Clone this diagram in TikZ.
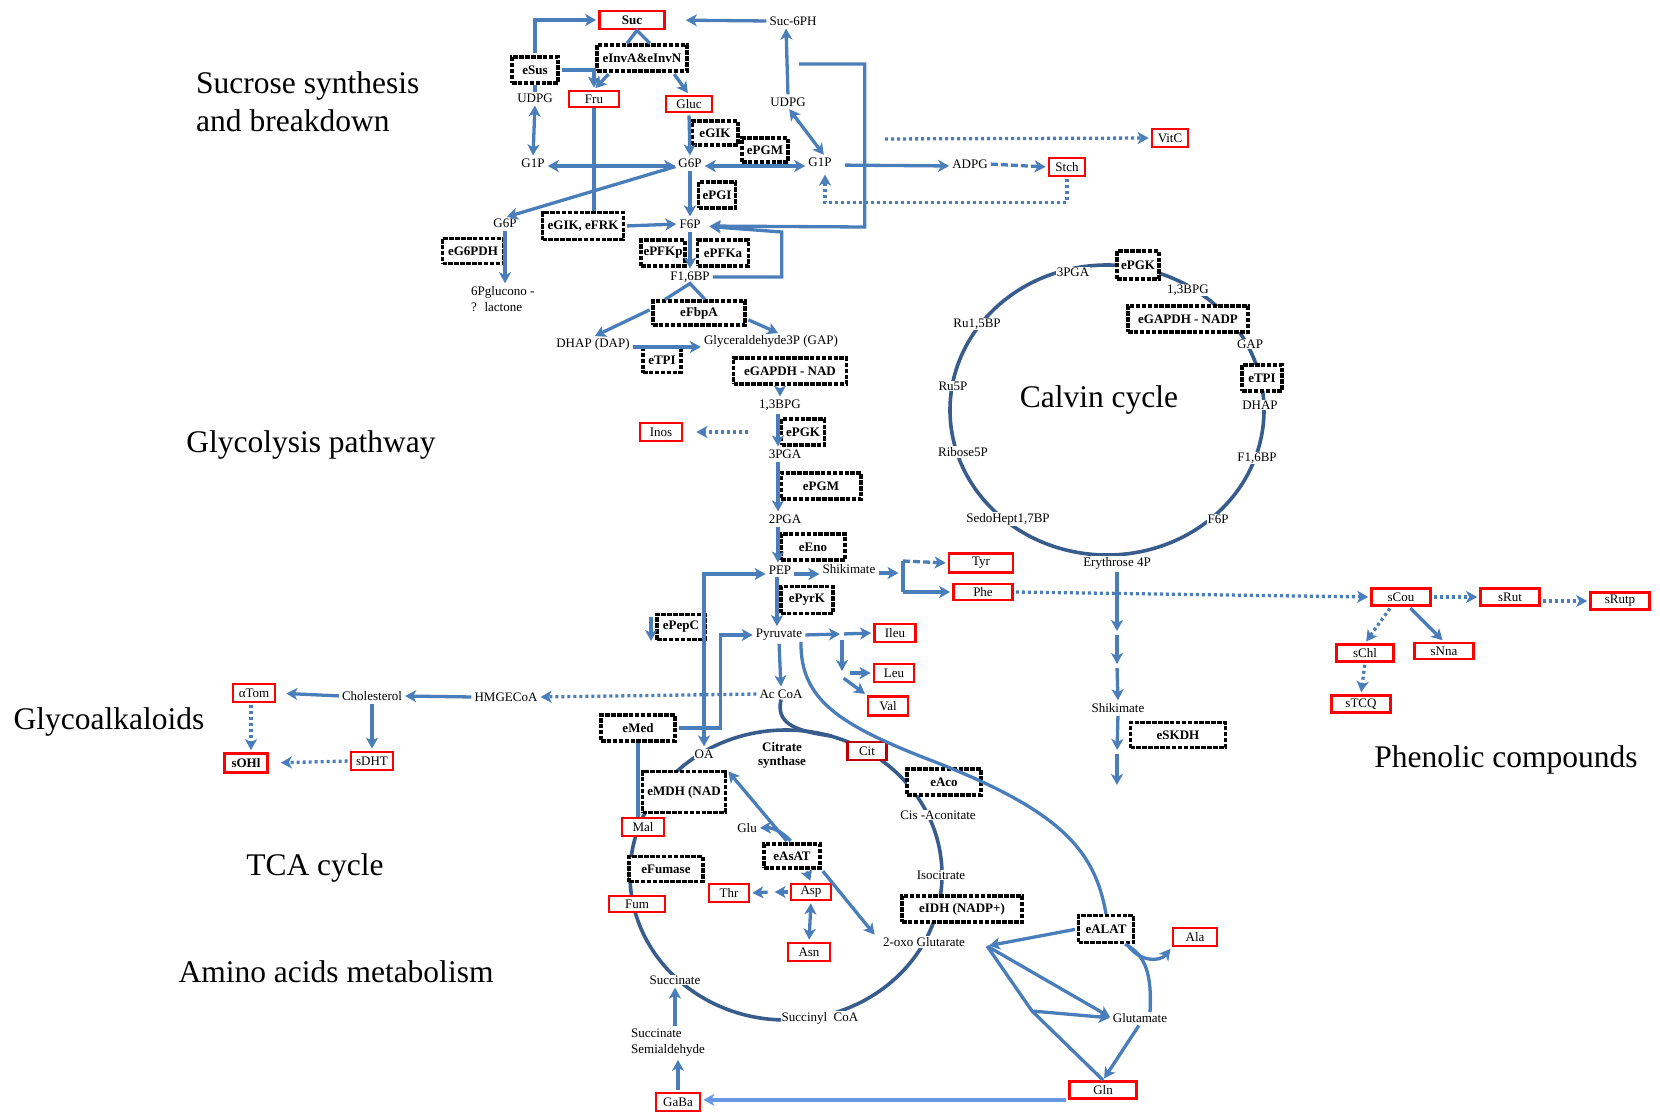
\documentclass[tikz,border=0pt]{standalone}
\usepackage{fontspec}
\setmainfont{Liberation Serif}
\usetikzlibrary{arrows.meta, calc}
\definecolor{arrblue}{RGB}{74,126,187}
\definecolor{cycblue}{RGB}{56,93,140}
\definecolor{lightblue}{RGB}{104,152,228}
\definecolor{boxred}{RGB}{255,0,0}
\definecolor{darkred}{RGB}{192,0,0}

\begin{document}
\begin{tikzpicture}[x=1pt, y=-1pt, >={Stealth[length=11pt,width=12pt,inset=3pt]}]
\tikzstyle{lbl}=[fill=white, inner sep=1pt, font=\fontsize{13}{16}\selectfont]
\tikzstyle{enz}=[draw=black, line width=3.1pt, dash pattern=on 4.5pt off 1.4pt, fill=white, inner sep=0pt, minimum height=26pt, font=\fontsize{13}{16}\selectfont\bfseries]
\tikzstyle{met}=[draw=boxred, line width=2.7pt, fill=white, inner sep=0pt, minimum height=18pt, font=\fontsize{13}{16}\selectfont]
\tikzstyle{metb}=[met, font=\fontsize{13}{16}\selectfont\bfseries]
\tikzstyle{ttl}=[font=\fontsize{31.5}{38}\selectfont, align=left, inner sep=0pt]
\tikzstyle{line}=[draw=arrblue, line width=3.3pt]
\tikzstyle{arr}=[line, ->, shorten <=2pt, shorten >=2pt]
\tikzstyle{dbl}=[line, <->, shorten <=2pt, shorten >=2pt]
\tikzstyle{dotarr}=[arr, dash pattern=on 3pt off 3pt]
\tikzstyle{dasharr}=[arr, dash pattern=on 7pt off 3pt]
\tikzstyle{lightarr}=[arr, draw=lightblue]
\tikzstyle{cyc}=[draw=cycblue, line width=3.6pt]
\useasboundingbox (0,0) rectangle (1660,1113);

% cycles
\draw[cyc] (786,875) ellipse [x radius=156, y radius=145];
\draw[cyc] (1107,410) ellipse [x radius=157, y radius=145];
\coordinate (csjoin) at (832,736);

% titles
\node[ttl, anchor=west] (tsuc) at (196,102) {Sucrose synthesis\\and breakdown};
\node[ttl] (tgly) at (311,445) {Glycolysis pathway};
\node[ttl] (tgal) at (109,722) {Glycoalkaloids};
\node[ttl] (ttca) at (315,868) {TCA cycle};
\node[ttl] (tamino) at (336,972) {Amino acids metabolism};
\node[ttl] (tphen) at (1506,760) {Phenolic compounds};
\node[ttl] (tcalvin) at (1099,400) {Calvin cycle};

% sucrose synthesis and breakdown
\node[metb, minimum width=65pt] (suc) at (632,20) {Suc};
\node[lbl] (sucph) at (793,21) {Suc-6PH};
\node[enz, minimum width=46pt] (esus) at (535,70) {eSus};
\node[enz, minimum width=90pt] (einv) at (642,58) {eInvA\&eInvN};
\node[lbl] (udpgL) at (535,98) {UDPG};
\node[met, minimum width=50pt, minimum height=16pt] (fru) at (594,99) {Fru};
\node[met, minimum width=46pt, minimum height=16pt] (gluc) at (689,104) {Gluc};
\node[lbl] (udpgR) at (788,102) {UDPG};
\node[enz, minimum width=46pt, minimum height=24pt] (egik) at (715,133) {eGIK};
\node[enz, minimum width=46pt, minimum height=24pt] (epgmA) at (765,150) {ePGM};
\node[lbl] (g1pL) at (533,163) {G1P};
\node[lbl] (g6p) at (690,163) {G6P};
\node[lbl] (g1pR) at (820,162) {G1P};
\node[lbl] (adpg) at (970,164) {ADPG};
\node[met, minimum width=36pt] (stch) at (1067,167) {Stch};
\node[met, minimum width=36pt] (vitc) at (1170,138) {VitC};
\node[enz, minimum width=37pt] (epgi) at (717,195) {ePGI};
\node[lbl] (g6pb) at (505,223) {G6P};
\node[enz, minimum width=81pt, minimum height=27pt] (egikfrk) at (583,226) {eGIK, eFRK};
\node[lbl] (f6p) at (690,224) {F6P};
\node[enz, minimum width=61pt, minimum height=25pt] (eg6pdh) at (473,251) {eG6PDH};
\node[enz, minimum width=44pt] (epfkp) at (663,253) {ePFKp};
\node[enz, minimum width=51pt] (epfka) at (723,253) {ePFKa};
\node[lbl] (fbp) at (690,277) {F1,6BP};
\node[lbl, align=left, anchor=west] (pgl) at (470,299) {6Pglucono -\\? \ lactone};
\coordinate (sucloop) at (797,64);
\coordinate (vitcsrc) at (883,139);

% glycolysis pathway
\node[enz, minimum width=92pt, minimum height=24pt] (efbpa) at (699,313) {eFbpA};
\node[lbl] (dhap) at (593,344) {DHAP (DAP)};
\node[lbl] (gap) at (771,341) {Glyceraldehyde3P (GAP)};
\node[enz, minimum width=38pt, minimum height=25pt] (etpiA) at (662,360) {eTPI};
\node[enz, minimum width=113pt] (egapdh) at (790,371) {eGAPDH - NAD};
\node[lbl] (bpgA) at (780,405) {1,3BPG};
\node[met, minimum width=42pt] (inos) at (661,432) {Inos};
\node[enz, minimum width=43pt] (epgkA) at (803,432) {ePGK};
\node[lbl] (pgaA) at (785,454) {3PGA};
\node[enz, minimum width=80pt] (epgmB) at (821,486) {ePGM};
\node[lbl] (pga2) at (785,519) {2PGA};
\node[enz, minimum width=64pt] (eeno) at (813,547) {eEno};
\node[lbl] (pep) at (780,570) {PEP};
\node[lbl] (shikA) at (849,569) {Shikimate};
\node[enz, minimum width=52pt, minimum height=27pt] (epyrk) at (807,600) {ePyrK};
\node[enz, minimum width=48pt, minimum height=25pt] (epepc) at (681,627) {ePepC};
\node[lbl] (pyr) at (779,635) {Pyruvate};
\node[met, minimum width=41pt] (ileu) at (895,633) {Ileu};
\node[met, minimum width=40pt] (leu) at (894,673) {Leu};
\node[met, minimum width=40pt, minimum height=19pt] (val) at (888,706) {Val};
\node[lbl] (accoa) at (781,694) {Ac CoA};
\coordinate (inossrc) at (750,432);
\coordinate (pepcA) at (651,615);
\coordinate (pepcB) at (651,643);
\coordinate (pyrfk) at (842,634);
\coordinate (pyrfk2) at (842,673);

% glycoalkaloids
\node[lbl] (hmg) at (506,697) {HMGECoA};
\node[lbl] (chol) at (372,696) {Cholesterol};
\node[met, minimum width=42pt] (atom) at (254,693) {αTom};
\node[met, minimum width=42pt] (sdht) at (372,761) {sDHT};
\node[metb, minimum width=43pt, minimum height=19pt] (sohl) at (246,763) {sOHl};

% TCA cycle
\node[enz, minimum width=74pt] (emed) at (638,728) {eMed};
\node[lbl] (oa) at (704,754) {OA};
\node[lbl, fill=none, align=center, font=\fontsize{13}{14}\selectfont\bfseries] (cs) at (782,755) {Citrate\\synthase};
\node[met, draw=darkred, minimum width=39pt] (cit) at (867,751) {Cit};
\node[enz, minimum width=83pt, minimum height=41pt] (emdh) at (684,792) {eMDH (NAD};
\node[enz, minimum width=74pt] (eaco) at (944,782) {eAco};
\node[lbl] (cisac) at (938,815) {Cis -Aconitate};
\node[met, minimum width=42pt] (mal) at (643,827) {Mal};
\node[lbl] (glu) at (747,828) {Glu};
\node[enz, minimum width=56pt, minimum height=24pt] (easat) at (792,856) {eAsAT};
\node[enz, minimum width=74pt, minimum height=25pt] (efum) at (666,869) {eFumase};
\node[lbl] (isoc) at (941,875) {Isocitrate};
\node[met, minimum width=40pt] (thr) at (729,893) {Thr};
\node[met, minimum width=40pt, minimum height=16pt] (asp) at (811,892) {Asp};
\node[met, minimum width=56pt, minimum height=16pt] (fum) at (637,904) {Fum};
\node[enz, minimum width=120pt] (eidh) at (962,909) {eIDH (NADP+)};
\node[lbl] (oxo) at (924,942) {2-oxo Glutarate};
\node[met, minimum width=42pt] (asn) at (809,952) {Asn};
\node[lbl] (succ) at (675,980) {Succinate};
\node[lbl] (succoa) at (820,1018) {Succinyl\ \ CoA};
\node[lbl, align=left, anchor=west] (ssa) at (630,1043) {Succinate\\Semialdehyde};
\node[met, minimum width=44pt] (gaba) at (678,1102) {GaBa};

% amino acids metabolism
\node[enz, minimum width=55pt, minimum height=27pt] (ealat) at (1106,929) {eALAT};
\node[met, minimum width=44pt] (ala) at (1195,937) {Ala};
\node[lbl] (glut) at (1140,1018) {Glutamate};
\node[met, minimum width=67pt, minimum height=17pt] (gln) at (1103,1090) {Gln};
\coordinate (oxohub) at (987,946);
\coordinate (oxofork) at (1032,1011);

% Calvin cycle
\node[lbl] (cpga) at (1073,272) {3PGA};
\node[enz, minimum width=42pt, minimum height=28pt] (epgkB) at (1138,265) {ePGK};
\node[lbl] (cbpg) at (1188,290) {1,3BPG};
\node[enz, minimum width=120pt] (egapdhB) at (1188,319) {eGAPDH - NADP};
\node[lbl] (cgap) at (1250,344) {GAP};
\node[enz, minimum width=40pt] (etpiB) at (1262,378) {eTPI};
\node[lbl] (cdhap) at (1260,405) {DHAP};
\node[lbl] (cfbp) at (1257,458) {F1,6BP};
\node[lbl] (cf6p) at (1218,519) {F6P};
\node[lbl] (ery) at (1117,563) {Erythrose 4P};
\node[lbl] (sedo) at (1008,519) {SedoHept1,7BP};
\node[lbl] (rib) at (963,452) {Ribose5P};
\node[lbl] (ru5p) at (953,386) {Ru5P};
\node[lbl] (rubp) at (977,324) {Ru1,5BP};

% phenolic compounds
\node[met, minimum width=64pt, minimum height=19pt] (tyr) at (981,563) {Tyr};
\node[met, minimum width=59pt, minimum height=16pt] (phe) at (983,592) {Phe};
\node[met, minimum width=59pt, minimum height=17pt] (scou) at (1401,597) {sCou};
\node[met, minimum width=59pt, minimum height=17pt] (srut) at (1510,597) {sRut};
\node[met, minimum width=59pt, minimum height=17pt] (srutp) at (1620,601) {sRutp};
\node[met, minimum width=57pt, minimum height=17pt] (schl) at (1365,653) {sChl};
\node[met, minimum width=59pt, minimum height=16pt] (snna) at (1444,651) {sNna};
\node[met, minimum width=59pt, minimum height=17pt] (stcq) at (1361,704) {sTCQ};
\node[lbl] (shikB) at (1118,708) {Shikimate};
\node[enz, minimum width=95pt, minimum height=25pt] (eskdh) at (1178,735) {eSKDH};
\coordinate (aroA) at (903,561);
\coordinate (aroB) at (903,592);
\coordinate (sk1) at (1117,633);
\coordinate (sk2) at (1117,666);
\coordinate (sk3) at (1117,752);
\coordinate (sk4) at (1117,787);

% sucrose connectors
\draw[arr, shorten >=20pt] (sucph.west) -- (suc.east);
\draw[arr] (esus.north) |- (suc.west);
\draw[line] ([xshift=-15pt]einv.north) -- ([xshift=5pt]suc.south) -- ([xshift=8pt]einv.north);
\draw[arr] ([xshift=-32pt]einv.south) -- (fru.north);
\draw[arr] (esus.east) -| (fru.north);
\draw[arr] ([xshift=31pt]einv.south) -- (gluc.north);
\draw[line] (esus.south) -- (udpgL.north);
\draw[dbl] (udpgL.south) -- (g1pL.north);
\draw[dbl] ([yshift=-3pt]g1pL.east) -- ([yshift=-3pt]g6p.west);
\draw[arr] (gluc.south) -- (g6p.north);
\draw[dbl] ([yshift=-3pt]g6p.east) -- ([yshift=-4pt]g1pR.west);
\draw[dbl] (udpgR.south) -- ([xshift=5pt]g1pR.north);
\draw[arr] (udpgR.north) -- ([xshift=-7pt]sucph.south);
\draw[arr, shorten <=12pt] ([yshift=-3pt]g1pR.east) -- ([yshift=-2pt]adpg.west);
\draw[dasharr] (adpg.east) -- (stch.west);
\draw[dotarr] (vitcsrc) -- (vitc.west);
\draw[dotarr, shorten >=7pt] (stch.south) |- ($(g1pR.south)+(5,35)$) -- ([xshift=5pt]g1pR.south);
\draw[arr, shorten >=8pt] (sucloop) -| ($(f6p.east)+(163,3)$) -- ([yshift=-2pt]f6p.east);
\draw[arr, shorten >=8pt] (fbp.east) -| ($(f6p.east)+(80,8)$) -- ([yshift=-2pt]f6p.east);
\draw[arr] (g6p.south) -- (f6p.north);
\draw[arr] ([yshift=-3pt]g6p.west) -- (g6pb.north);
\draw[line] (fru.south) -- (fru.south |- egikfrk.north);
\draw[arr] (egikfrk.east) -- (f6p.west);
\draw[arr] (g6pb.south) -- (g6pb.south |- pgl.north);
\draw[arr] (f6p.south) -- (fbp.north);

% glycolysis connectors
\draw[line] ([xshift=-34pt]efbpa.north) -- (fbp.south) -- ([xshift=6pt]efbpa.north);
\draw[arr] ([yshift=4pt]efbpa.west) -- (dhap.north);
\draw[arr] ([yshift=-6pt]efbpa.east) -- ([xshift=9pt]gap.north);
\draw[arr] ([yshift=-3pt]dhap.east) -- ([yshift=-6pt]gap.west);
\draw[arr] (egapdh.south -| bpgA) -- (bpgA.north);
\draw[dotarr, shorten >=13pt] (inossrc) -- (inos.east);
\draw[arr] ([xshift=-2pt]bpgA.south) -- ([xshift=-7pt]pgaA.north);
\draw[arr] ([xshift=-7pt]pgaA.south) -- ([xshift=-7pt]pga2.north);
\draw[arr] ([xshift=-7pt]pga2.south) -- ([xshift=-2pt]pep.north);
\draw[arr] ([yshift=-4pt]pep.east) -- ([yshift=-5pt]shikA.west);
\draw[arr] ([xshift=-3pt]pep.south) -- ([xshift=-2pt]pyr.north);
\draw[dbl] ([yshift=-4pt]pep.west) -| (oa.north);
\draw[arr] (pepcA) -- (pepcB);
\draw[arr] (emed.east) -| ($(pyr.west)+(-34,0)$) -- (pyr.west);
\draw[line] (emed.south) -- (emed.south |- mal.north);
\draw[arr] (pyr.south) -- (accoa.north);
\draw[arr] (pyr.east) -- (pyrfk);
\draw[arr] (pyrfk) -- (ileu.west);
\draw[arr] ([yshift=-4pt]pyrfk) -- (pyrfk2);
\draw[arr] ([xshift=6pt]pyrfk2) -- (leu.west);
\draw[arr] ([yshift=-4pt]pyrfk2) -- (val.north west);
\draw[line] ([xshift=22pt]pyr.south) .. controls (800,700) and (840,725) .. (930,760) .. controls (1060,810) and (1095,850) .. (ealat.north);

% glycoalkaloid connectors
\draw[dotarr] (accoa.west) -- (hmg.east);
\draw[arr] (hmg.west) -- (chol.east);
\draw[arr, shorten >=10pt] (chol.west) -- (atom.east);
\draw[arr] (chol.south) -- (sdht.north);
\draw[dotarr, shorten >=12pt] (sdht.west) -- (sohl.east);
\draw[dotarr] ([xshift=-3pt]atom.south) -- ([xshift=5pt]sohl.north);

% TCA and amino acid connectors
\draw[cyc] (accoa.south) .. controls (776,722) and (792,731) .. (csjoin);
\draw[arr] (easat.north) to[bend right=25] (glu.east);
\draw[arr] ([xshift=-4pt]easat.north) -- (emdh.north east);
\draw[arr] ([xshift=14pt]easat.south) -- (asp.north);
\draw[arr] (easat.south east) -- ([xshift=-6pt]oxo.north west);
\draw[arr] (asp.west) -- ++(-17,0);
\draw[arr] ([xshift=-20pt]asp.west) -- (thr.east);
\draw[dbl] (asp.south) -- (asn.north);
\draw[arr] (ealat.west) -- (oxohub);
\draw[arr] (oxohub) -- (glut.west);
\draw[line] (oxohub) -- (oxofork) -- (gln.north);
\draw[arr] (oxofork) -- (glut.west);
\draw[arr] (glut.south) -- (gln.north);
\draw[line] ([xshift=10pt]glut.north) .. controls (1152,975) and (1146,955) .. ([xshift=-10pt]ealat.south east);
\draw[arr] ([xshift=-8pt]ealat.south east) .. controls (1140,962) and (1160,962) .. (ala.south west);
\draw[lightarr] (gln.south west) -- (gln.south west -| gaba.east);
\draw[arr] (gaba.north) -- (gaba.north |- ssa.south);
\draw[arr] (succ.south |- ssa.north) -- (succ.south);

% phenolic connectors
\draw[arr, shorten >=0pt] ([yshift=-4pt]shikA.east) -- ++(22,0);
\draw[line] (aroA) -- (aroB);
\draw[dasharr, shorten <=0pt] (aroA) -- (tyr.west);
\draw[arr, shorten <=0pt] (aroB) -- (phe.west);
\draw[dotarr] (phe.east) -- (scou.west);
\draw[dotarr] (scou.east) -- (srut.west);
\draw[dotarr] ([yshift=-4pt]srut.east) -- (srutp.west);
\draw[dotarr] ([xshift=-10pt]scou.south) -- (schl.north);
\draw[arr] ([xshift=8pt]scou.south) -- (snna.north);
\draw[dotarr] (schl.south) -- (stcq.north);
\draw[arr] (ery.south) -- (sk1);
\draw[arr] (sk1) -- (sk2);
\draw[arr] (sk2) -- (shikB.north);
\draw[arr] (shikB.south) -- (sk3);
\draw[arr] (sk3) -- (sk4);
\end{tikzpicture}
\end{document}
